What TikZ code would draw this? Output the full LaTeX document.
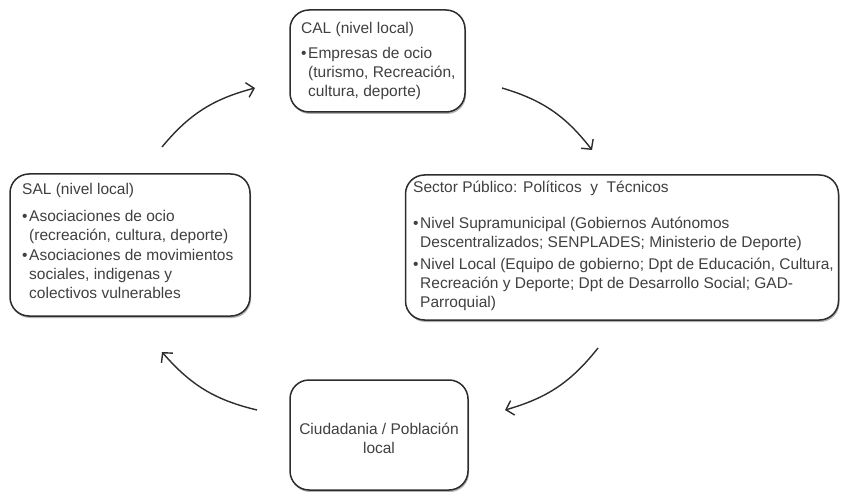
\documentclass[tikz,border=0pt]{standalone}
\usepackage{fontspec}
\setmainfont{Liberation Sans}
\usetikzlibrary{arrows.meta,shadows,bending}
\definecolor{txtcol}{RGB}{64,64,64}
\definecolor{edgecol}{RGB}{45,45,45}
\newcommand{\bitem}{\makebox[7pt][l]{\textbullet}}
\newcommand{\bind}{\hspace*{7pt}}
\tikzset{
  boxnode/.style={draw=edgecol, line width=1.5pt, rounded corners=19pt, fill=white,
    drop shadow={shadow xshift=1pt, shadow yshift=-2pt, opacity=0.3, fill=black}},
  txtnode/.style={anchor=north west, inner sep=0pt, align=left, text=txtcol,
    font=\fontsize{15.5}{19}\selectfont},
  arr/.style={draw=edgecol, line width=1.4pt, -{Straight Barb[length=7pt,width=15pt]}}
}
\begin{document}
\begin{tikzpicture}[x=1pt,y=-1pt]
\useasboundingbox (0,0) rectangle (841,492);
% boxes
\node[boxnode, minimum width=175pt, minimum height=102pt] (cal) at (377.5,61) {};
\node[boxnode, minimum width=240pt, minimum height=142pt] (sal) at (130,245) {};
\node[boxnode, minimum width=433pt, minimum height=145pt] (pub) at (622,247.5) {};
\node[boxnode, minimum width=178pt, minimum height=110pt] (ciu) at (379,435) {};
% texts
\node[txtnode] (caltxt) at (301,22) {CAL (nivel local)\\[6pt]
\bitem Empresas de ocio\\
\bind(turismo, Recreación,\\
\bind cultura, deporte)};
\node[txtnode] (saltxt) at (22,183) {SAL (nivel local)\\[8pt]
\bitem Asociaciones de ocio\\
\bind(recreación, cultura, deporte)\\[1pt]
\bitem Asociaciones de movimientos\\
\bind sociales, indigenas y\\
\bind colectivos vulnerables};
\node[txtnode] (pubtxt) at (413,181) {Sector Público: Políticos \ y \ Técnicos\\[17pt]
\bitem Nivel Supramunicipal (Gobiernos Autónomos\\
\bind Descentralizados; SENPLADES; Ministerio de Deporte)\\[3pt]
\bitem Nivel Local (Equipo de gobierno; Dpt de Educación, Cultura,\\
\bind Recreación y Deporte; Dpt de Desarrollo Social; GAD-\\
\bind Parroquial)};
\node[txtnode, anchor=center, align=center] (ciutxt) at (379,438) {Ciudadania / Población\\local};
% arrows
\coordinate (a1s) at (162,147);
\coordinate (a1e) at (255,88);
\coordinate (a2s) at (502,88);
\coordinate (a2e) at (592,150);
\coordinate (a3s) at (598,348);
\coordinate (a3e) at (505,410);
\coordinate (a4s) at (257,410);
\coordinate (a4e) at (162,352);
\draw[arr] (a1s) to[bend left=18] (a1e);
\draw[arr] (a2s) to[bend left=18] (a2e);
\draw[arr] (a3s) to[bend left=18] (a3e);
\draw[arr] (a4s) to[bend left=18] (a4e);
\end{tikzpicture}
\end{document}
